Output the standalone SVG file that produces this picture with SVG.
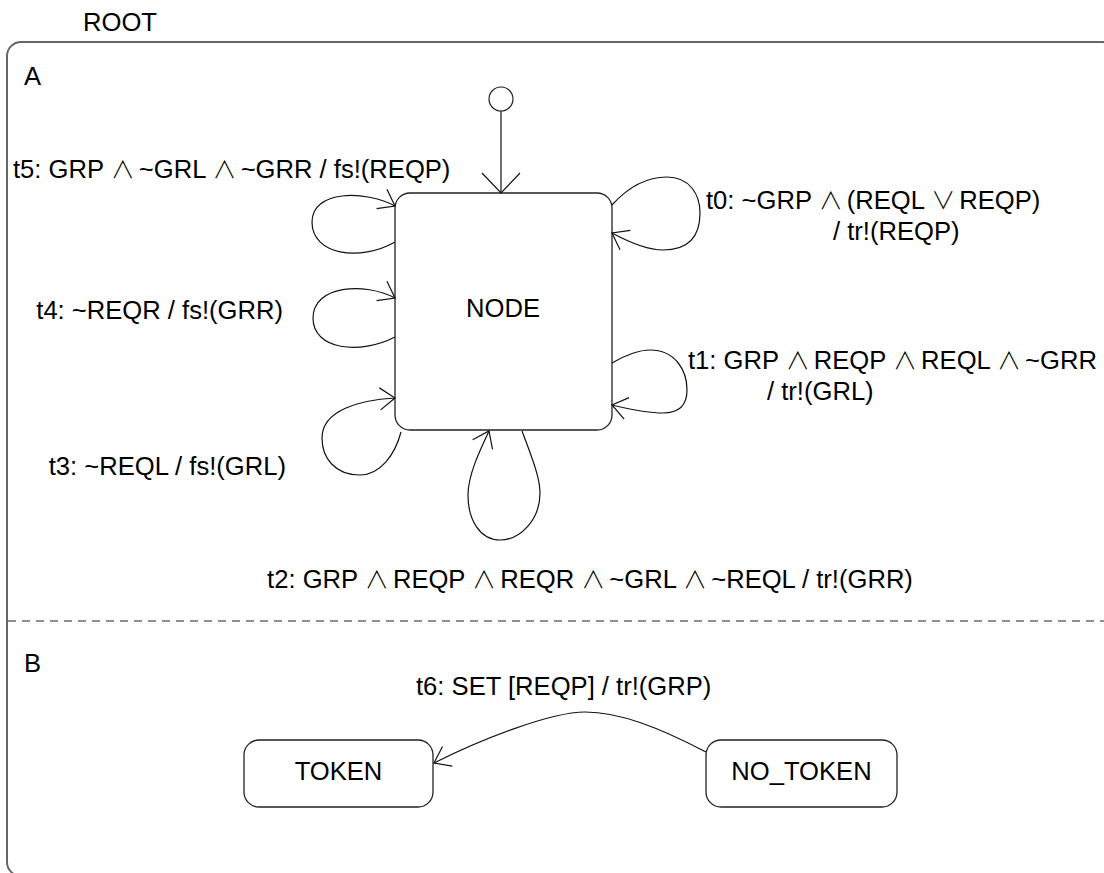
<svg xmlns="http://www.w3.org/2000/svg" width="1104" height="873" viewBox="0 0 1104 873">
<style>
text{font-family:"Liberation Sans",Arial,"DejaVu Sans",sans-serif;font-size:25.6px;fill:#000}
.op{font-family:"Noto Sans CJK SC","DejaVu Sans",sans-serif;font-weight:300;font-size:24px;letter-spacing:-3px}
.mid{text-anchor:middle}
.end{text-anchor:end}
.state{fill:#fff;stroke:#222;stroke-width:1.3}
.edge{fill:none;stroke:#111;stroke-width:1.2}
</style>
<defs>
<marker id="arr" markerUnits="userSpaceOnUse" orient="auto" refX="0" refY="0" viewBox="-20 -15 22 30" markerWidth="22" markerHeight="30" overflow="visible">
<path d="M-15,-11 L0,0 L-15,11" fill="none" stroke="#111" stroke-width="1.2"/>
</marker>
<marker id="arrBig" markerUnits="userSpaceOnUse" orient="auto" refX="0" refY="0" viewBox="-25 -22 27 44" markerWidth="27" markerHeight="44" overflow="visible">
<path d="M-20,-19 L0,0 L-20,19" fill="none" stroke="#111" stroke-width="1.2"/>
</marker>
</defs>
<rect width="1104" height="873" fill="#fff"/>
<g id="ROOT">
<rect x="7" y="42" width="1109" height="834" rx="14" ry="14" fill="none" stroke="#666" stroke-width="2"/>
<text x="83" y="31">ROOT</text>
</g>
<g id="A">
<text x="24" y="85">A</text>
<line x1="8" y1="621" x2="1104" y2="621" stroke="#222" stroke-width="1.2" stroke-dasharray="8,6"/>
</g>
<g id="B">
<text x="24" y="672">B</text>
</g>
<g id="init">
<circle cx="501" cy="99" r="12" fill="#fff" stroke="#222" stroke-width="1.2"/>
</g>
<g id="NODE">
<rect class="state" x="395" y="193" width="217" height="237" rx="15" ry="15"/>
<text class="mid" x="503" y="317">NODE</text>
</g>
<g id="TOKEN">
<rect class="state" x="244" y="740" width="189" height="67" rx="15" ry="15"/>
<text class="mid" x="338.5" y="780">TOKEN</text>
</g>
<g id="NO_TOKEN">
<rect class="state" x="706" y="740" width="191" height="67" rx="15" ry="15"/>
<text class="mid" x="801.5" y="780">NO_TOKEN</text>
</g>
<g id="connectors">
<path class="edge" d="M501,111 L501,193" marker-end="url(#arrBig)"/>
<path id="t5" class="edge" d="M395,242 C360,262 312,255 312,222 C312,190 365,190 395,206" marker-end="url(#arr)"/>
<path id="t4" class="edge" d="M395,337 C360,355 313,350 313,318 C313,285 365,282 395,298" marker-end="url(#arr)"/>
<path id="t3" class="edge" d="M401,432 C395,455 380,475 360,475 C335,475 322,458 322,438 C322,410 360,400 395,398" marker-end="url(#arr)"/>
<path id="t2" class="edge" d="M522,431 C535,465 540,480 540,493 C540,520 520,540 500,540 C480,540 468,520 468,495 C468,475 480,450 489,431" marker-end="url(#arr)"/>
<path id="t0" class="edge" d="M612,205 C630,185 650,177 667,177 C690,177 700,195 700,213 C700,235 690,250 663,250 C645,250 625,240 612,233" marker-end="url(#arr)"/>
<path id="t1" class="edge" d="M612,363 C625,355 640,350 650,350 C675,350 687,370 687,390 C687,405 680,413 663,413 C645,413 625,408 612,405" marker-end="url(#arr)"/>
<path id="t6" class="edge" d="M706,752 C660,728 620,712 585,712 C550,712 480,740 434,763" marker-end="url(#arr)"/>
<text x="13" y="178">t5: GRP <tspan class="op">∧</tspan> ~GRL <tspan class="op">∧</tspan> ~GRR / fs!(REQP)</text>
<text class="end" x="283" y="319">t4: ~REQR / fs!(GRR)</text>
<text class="end" x="286" y="475">t3: ~REQL / fs!(GRL)</text>
<text class="mid" x="590" y="588">t2: GRP <tspan class="op">∧</tspan> REQP <tspan class="op">∧</tspan> REQR <tspan class="op">∧</tspan> ~GRL <tspan class="op">∧</tspan> ~REQL / tr!(GRR)</text>
<text x="706" y="209">t0: ~GRP <tspan class="op">∧</tspan> (REQL <tspan class="op">∨</tspan> REQP)<tspan x="833" y="240">/ tr!(REQP)</tspan></text>
<text x="688" y="369">t1: GRP <tspan class="op">∧</tspan> REQP <tspan class="op">∧</tspan> REQL <tspan class="op">∧</tspan> ~GRR<tspan x="767" y="400">/ tr!(GRL)</tspan></text>
<text x="416" y="695">t6: SET [REQP] / tr!(GRP)</text>
</g>
</svg>
